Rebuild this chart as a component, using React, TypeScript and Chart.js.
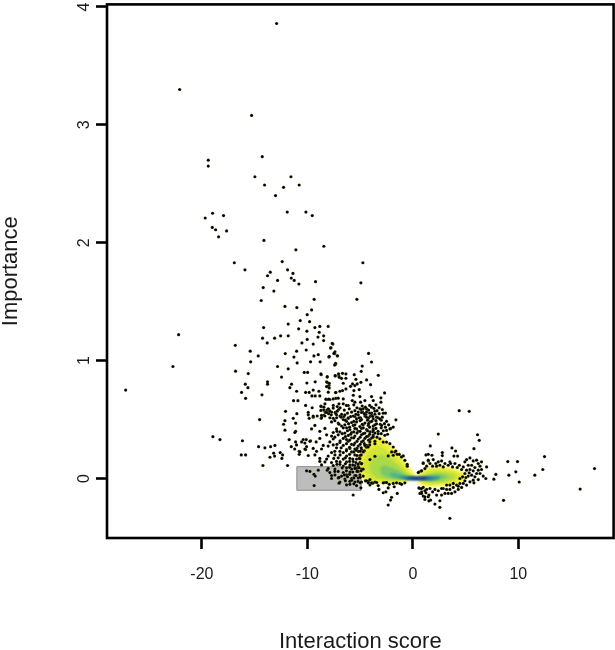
import React, { useEffect, useRef } from "react";
import { Chart, registerables } from "chart.js";

Chart.register(...registerables);

type P = [number, number];

const xTickValues = [-20, -10, 0, 10];
const yTickValues = [0, 1, 2, 3, 4];

const selectionBox: P[] = [[-11, -0.1], [-11, 0.1], [-4.93, 0.1], [-4.93, -0.1], [-11, -0.1]];

const leftLobe: P[][] = [
  [[0.6,0.005],[-0.2,0.09],[-1.2,0.21],[-2.2,0.3],[-3.2,0.37],[-4.2,0.33],[-5.1,0.2],[-5.2,0.08],[-4.6,-0.03],[-3.4,-0.05],[-1.9,-0.05],[-0.6,-0.03]],
  [[0.35,0.01],[-0.3,0.075],[-1.2,0.19],[-2.2,0.28],[-3.2,0.35],[-4.2,0.31],[-5,0.19],[-5.1,0.08],[-4.5,-0.015],[-3.4,-0.035],[-1.9,-0.038],[-0.6,-0.02]],
  [[0.2,0.008],[-0.4,0.05],[-1.2,0.14],[-2.2,0.22],[-3.1,0.28],[-4,0.25],[-4.7,0.15],[-4.7,0.07],[-4.1,0],[-3.2,-0.018],[-1.9,-0.025],[-0.6,-0.012]],
  [[0.1,0.006],[-0.5,0.035],[-1.2,0.095],[-2.1,0.16],[-2.9,0.2],[-3.6,0.18],[-4.1,0.11],[-3.9,0.04],[-3.2,0],[-1.9,-0.012],[-0.6,-0.008]],
  [[0,0.005],[-0.6,0.025],[-1.2,0.06],[-2,0.09],[-2.7,0.11],[-3.1,0.09],[-3,0.04],[-2.6,0.012],[-1.8,-0.002],[-0.6,-0.005]],
  [[-0.1,0.004],[-0.7,0.015],[-1.3,0.035],[-1.9,0.045],[-2.2,0.035],[-1.9,0.012],[-1.2,0],[-0.6,-0.004]],
];
const rightLobe: P[][] = [
  [[0.2,0.005],[0.7,0.06],[1.6,0.105],[2.9,0.11],[4.2,0.085],[5.1,0.045],[5.2,0.005],[4.3,-0.05],[2.9,-0.07],[1.6,-0.08],[0.7,-0.06]],
  [[0.4,0.004],[0.8,0.05],[1.6,0.09],[2.9,0.095],[4.1,0.072],[4.9,0.035],[5,0.005],[4.2,-0.04],[2.9,-0.058],[1.6,-0.066],[0.8,-0.05]],
  [[0.5,0.004],[1,0.04],[1.8,0.07],[2.9,0.072],[3.9,0.055],[4.5,0.025],[4.5,0.005],[3.8,-0.028],[2.8,-0.04],[1.7,-0.048],[1,-0.036]],
  [[0.6,0.004],[1.2,0.03],[2,0.05],[2.9,0.052],[3.6,0.035],[4,0.015],[3.5,-0.016],[2.6,-0.028],[1.7,-0.032],[1.1,-0.022]],
  [[0.7,0.004],[1.4,0.022],[2.2,0.035],[2.9,0.032],[3.3,0.018],[3,-0.006],[2.3,-0.018],[1.5,-0.02]],
  [[0.9,0.004],[1.6,0.016],[2.3,0.02],[2.7,0.012],[2.3,-0.008],[1.5,-0.012]],
];
const coreStreak: P[][] = [
  [[-1.4,0.012],[-0.5,0.018],[0.5,0.016],[1.8,0.016],[2.6,0.008],[1.8,-0.012],[0.5,-0.016],[-0.6,-0.012]],
  [[-0.9,0.006],[0,0.012],[1,0.012],[1.9,0.006],[1,-0.01],[0,-0.01]],
  [[-0.6,0.002],[0.1,0.008],[1,0.008],[1.5,0.002],[1,-0.007],[0.1,-0.006]],
];

const upperPoints: P[] = [
  [-12.92,3.86],[-22.11,3.3],[-15.29,3.08],[-14.28,2.73],[-19.4,2.7],[-19.4,2.65],[-14.98,2.56],[-11.56,2.56],[-14.06,2.49],[-10.78,2.49],[-12.26,2.47],[-13.02,2.4],[-11.91,2.26],[-18.99,2.25],[-17.95,2.23],[-19.69,2.21],[-19.02,2.13],[-18.7,2.11],[-17.66,2.1],[-18.42,2.05],[-14.12,2.02],[-11.09,1.94],
  [-8.44,1.97],[-4.74,1.83],[-10.14,2.26],[-9.54,2.23],[-16.93,1.83],[-15.92,1.77],[-12.39,1.84],[-11.88,1.77],[-11.37,1.74],[-13.52,1.75],[-13.78,1.72],[-12.83,1.68],[-11.53,1.7],[-11.25,1.68],[-10.81,1.65],[-9.23,1.67],[-4.93,1.66],[-14.19,1.62],[-13.18,1.59],[-14.38,1.51],[-9.36,1.52],[-5.31,1.52],[-12.13,1.46],[-11,1.45],[-9.6,1.43],
];

const midPoints: P[] = [
  [-10.02,1.39],[-10.68,1.34],[-9.79,1.33],[-11.82,1.31],[-9.29,1.28],[-8.82,1.29],[-8.03,1.29],[-14.15,1.28],[-10.83,1.27],[-10.05,1.25],[-8.88,1.24],[-8.46,1.21],[-9,1.2],[-14.25,1.19],[-13.11,1.19],[-12.54,1.21],[-11.82,1.21],[-13.81,1.15],[-10.02,1.18],[-10.52,1.15],[-9.45,1.14],[-8.46,1.17],[-7.58,1.14],[-16.84,1.13],[-22.21,1.22],[-22.75,0.95],[-27.23,0.75],
  [-15.42,1.08],[-14.66,1.04],[-15.38,0.99],[-12.1,1.06],[-11.02,1.08],[-10.11,1.09],[-7.77,1.11],[-9.38,1.04],[-8.97,1.05],[-11.28,1.03],[-10.97,0.98],[-9.7,0.99],[-8.79,0.99],[-7.96,1.03],[-7.42,1.06],[-7.14,1.04],[-7.33,0.97],[-12.83,0.95],[-11.82,0.93],[-16.81,0.91],[-15.61,0.89],[-10.3,0.9],[-9.98,0.9],[-8.69,0.88],[-8.12,0.86],[-7.37,0.87],[-7.01,0.87],[-12.45,0.86],[-13.78,0.82],[-13.78,0.8],[-11.5,0.8],[-11.66,0.77],[-15.89,0.8],[-15.64,0.77],[-16.24,0.73],[-15.86,0.68],[-14.31,0.71],[-10.05,0.81],[-9.26,0.82],[-8.18,0.82],[-7.96,0.79],[-8.09,0.78],[-11.02,0.74],[-9.45,0.75],[-10.17,0.73],[-9.83,0.73],[-8.91,0.74],[-7.3,0.73],[-9.57,0.7],[-9.26,0.7],[-8.82,0.7],[-8.18,0.67],[-7.87,0.67],[-7.3,0.68],[-11.31,0.66],[-10.9,0.66],[-10.17,0.62],[-9.55,0.6],[-8.69,0.61],[-8.46,0.58],[-8.16,0.58],[-7.96,0.585],[-7.55,0.62],[-7.17,0.61],[-7.04,0.585],[-8.31,0.56],[-7.99,0.55],[-7.74,0.54],[-7.37,0.56],[-12.07,0.57],[-9.92,0.56],[-9.07,0.53],[-9.45,0.52],[-9.83,0.51],[-11,0.55],[-8.69,0.51],[-14.53,0.5],[-11.34,0.51],[-12.13,0.49],[-12.26,0.46],[-11.12,0.47],[-12.13,0.41],[-11.12,0.4],
  [-18.96,0.355],[-18.29,0.33],[-16.16,0.32],[-11.73,0.33],[-10.4,0.33],[-10.11,0.33],[-9.7,0.32],[-11.12,0.31],[-9.17,0.31],[-14.63,0.27],[-14.03,0.26],[-13.49,0.27],[-13.08,0.28],[-11.53,0.27],[-11.21,0.25],[-10.78,0.23],[-10.78,0.205],[-10.08,0.27],[-10.17,0.245],[-16.27,0.2],[-15.86,0.2],[-12.58,0.22],[-12.35,0.2],[-12.42,0.17],[-13.2,0.215],[-13.55,0.18],[-13.11,0.19],[-14.22,0.11],[-11.88,0.11],
  [-10.08,0.065],[-9.76,0.06],[-9.38,0.035],[-9.26,0.02],[-9.36,-0.06],[-8.97,0.07],[-8.12,0.07],[-5.66,-0.14],
];

const upperCloud: P[] = [
  [-7.65,1.146],[-7.8,1.106],[-7.39,1.075],[-7.49,1.061],[-7.93,1.036],[-7.17,1.041],[-7.33,0.977],[-7.42,0.962],[-4.2,1.061],[-3.92,0.988],[-4.8,0.954],[-4.9,0.909],[-3.28,0.875],
  [-8.72,0.887],[-8.12,0.864],[-7.36,0.872],[-7.05,0.887],[-6.67,0.892],[-6.35,0.887],[-5.56,0.881],[-6.98,0.858],[-6.76,0.85],[-6.35,0.85],[-5.4,0.841],[-8.12,0.816],[-7.93,0.808],[-6.6,0.808],[-5.28,0.802],[-4.93,0.816],[-4.39,0.836],[-4.01,0.796],[-5.72,0.802],[-5.91,0.782],[-5.5,0.788],
  [-8.18,0.78],[-7.93,0.768],[-6.35,0.76],[-6.67,0.746],[-6.92,0.74],[-7.33,0.729],[-8.02,0.732],[-5.59,0.746],[-5.09,0.754],[-5.65,0.706],[-2.68,0.726],[-3.92,0.695],[-3.03,0.684],[-3.76,0.661],[-3.03,0.647],[-5.02,0.695],[-4.55,0.661],[-4.96,0.647],
  [-8.25,0.673],[-7.99,0.673],[-7.55,0.675],[-7.08,0.681],[-6.6,0.675],[-5.75,0.661],[-5.5,0.647],[-8.34,0.633],[-7.01,0.633],[-6.6,0.633],[-6.13,0.619],[-8.72,0.613],[-8.44,0.605],[-8.02,0.591],[-7.55,0.597],[-8.25,0.563],[-8.72,0.577],[-7.71,0.563],[-7.17,0.571],[-6.76,0.543],[-6.54,0.526],[-6.03,0.591],[-5.81,0.563],[-5.02,0.591],[-4.71,0.591],[-4.39,0.591],[-5.18,0.563],[-4.77,0.563],[-4.45,0.543],[-3.92,0.605],[-3.6,0.571],[-2.81,0.554],[-4.07,0.526],[-3.44,0.52],[-1.61,0.498],[-5.5,0.526],[-4.96,0.515],[-6.13,0.515],[-7.23,0.515],[-7.87,0.515],[-8.44,0.535],[-8.66,0.515],
];

const denseCloud: P[] = [
  [-8.18,0.56],[-7.87,0.57],[-4.87,0.56],[-4.39,0.565],[-3.92,0.555],
  [-9.92,0.54],[-9.45,0.53],[-8.66,0.535],[-8.34,0.53],[-7.24,0.54],[-6.92,0.53],[-6.45,0.54],[-5.66,0.53],[-5.18,0.54],[-4.55,0.53],[-3.92,0.535],
  [-7.55,0.51],[-6.6,0.5],[-6.13,0.51],[-5.34,0.505],[-4.87,0.5],[-4.23,0.51],[-3.76,0.505],
  [-7.71,0.48],[-7.08,0.47],[-6.29,0.485],[-5.81,0.475],[-5.34,0.48],[-4.55,0.47],[-4.07,0.48],
  [-9.29,0.45],[-6.76,0.445],[-6.45,0.455],[-5.66,0.45],[-5.02,0.44],[-4.71,0.455],[-4.23,0.45],[-3.76,0.445],
  [-9.61,0.42],[-8.34,0.425],[-7.24,0.42],[-6.29,0.43],[-5.97,0.415],[-5.34,0.42],[-4.87,0.425],[-4.39,0.415],[-3.76,0.42],
  [-11.19,0.39],[-8.82,0.4],[-7.55,0.39],[-6.92,0.395],[-6.45,0.385],[-5.81,0.39],[-5.18,0.4],[-4.55,0.385],[-4.07,0.395],
  [-8.18,0.37],[-7.71,0.36],[-7.08,0.37],[-6.13,0.365],[-5.5,0.36],[-4.87,0.37],[-4.23,0.36],[-3.76,0.365],
  [-8.82,0.34],[-7.55,0.335],[-6.6,0.34],[-6.29,0.33],[-5.81,0.345],[-5.18,0.335],[-4.55,0.34],[-4.07,0.33],
  [-10.55,0.31],[-10.24,0.3],[-9.76,0.315],[-7.87,0.31],[-6.92,0.305],[-6.13,0.315],[-5.5,0.3],[-4.87,0.31],
  [-11.03,0.285],[-8.5,0.28],[-8.03,0.275],[-7.55,0.285],[-6.6,0.28],[-5.81,0.29],[-5.18,0.275],[-4.39,0.28],
  [-10.24,0.25],[-9.45,0.255],[-8.66,0.25],[-7.24,0.26],[-6.29,0.245],[-5.97,0.255],[-5.5,0.25],[-4.87,0.245],
  [-10.71,0.225],[-9.13,0.23],[-7.71,0.22],[-6.92,0.23],[-6.6,0.22],[-5.81,0.225],[-5.18,0.23],
  [-9.92,0.195],[-9.29,0.2],[-8.03,0.19],[-7.39,0.2],[-6.29,0.19],[-5.5,0.2],[-5.02,0.195],
  [-8.82,0.17],[-8.18,0.165],[-7.08,0.175],[-6.6,0.165],[-5.97,0.17],[-5.34,0.165],
  [-8.82,0.145],[-8.34,0.14],[-7.71,0.135],[-7.24,0.145],[-6.29,0.14],[-5.66,0.145],[-5.02,0.135],
  [-8.66,0.115],[-7.55,0.11],[-6.92,0.12],[-6.6,0.105],[-5.97,0.115],[-5.5,0.11],[-5.18,0.1],
  [-8.03,0.085],[-7.39,0.08],[-6.29,0.09],[-5.81,0.08],[-5.34,0.085],[-4.87,0.08],
  [-7.87,0.05],[-7.08,0.06],[-6.6,0.05],[-5.97,0.055],[-5.18,0.06],
  [-7.71,0.025],[-7.39,0.03],[-6.76,0.02],[-6.29,0.03],[-5.5,0.025],[-5.02,0.03],[-4.71,0.02],
  [-7.71,0],[-7.08,0.005],[-6.45,-0.005],[-5.81,0],[-5.18,0.005],
  [-6.92,-0.03],[-5.97,-0.025],[-5.5,-0.03],[-4.87,-0.03],[-4.23,-0.025],[-3.6,-0.03],
  [-6.29,-0.055],[-5.97,-0.05],[-5.34,-0.06],[-4.07,-0.055],[-3.29,-0.06],
];

const denseCore: P[] = [
  [-6.3,0.62],[-5.6,0.625],[-4.8,0.615],[-4.1,0.62],[-3.5,0.625],[-6.9,0.6],[-5.3,0.6],[-4.5,0.605],[-3.7,0.595],[-3.2,0.6],
  [-6.5,0.58],[-5.5,0.575],[-4.9,0.585],[-4.2,0.58],[-3.4,0.575],[-2.9,0.585],[-7.3,0.55],[-6.2,0.555],[-5.4,0.545],[-4.6,0.55],[-4.1,0.555],[-3.6,0.545],[-3.2,0.55],[-2.6,0.555],
  [-6.8,0.52],[-5.9,0.525],[-5.1,0.515],[-4.4,0.52],[-3.8,0.525],[-3.3,0.515],[-2.9,0.52],[-7.4,0.49],[-6.4,0.495],[-5.6,0.485],[-5,0.49],[-4.3,0.495],[-3.9,0.485],[-3.5,0.49],[-3,0.495],[-2.5,0.485],
  [-7,0.46],[-6.1,0.465],[-5.5,0.455],[-4.8,0.46],[-4.2,0.465],[-3.6,0.455],[-3.1,0.46],[-2.7,0.465],[-2.3,0.455],[-6.6,0.43],[-6,0.435],[-5.5,0.425],[-4.7,0.43],[-4.1,0.435],[-3.5,0.425],[-3,0.43],[-2.6,0.435],[-2.1,0.425],
  [-7.2,0.4],[-6.2,0.405],[-5.6,0.395],[-5,0.4],[-4.3,0.405],[-3.8,0.395],[-3.3,0.4],[-2.8,0.405],[-6.7,0.38],[-5.9,0.375],[-5.3,0.385],[-4.7,0.38],[-4.1,0.375],[-3.6,0.385],[-3,0.38],[-2.4,0.375],
  [-7.4,0.35],[-6.4,0.355],[-5.6,0.345],[-5,0.35],[-4.4,0.355],[-3.9,0.345],[-3.4,0.35],[-6.9,0.32],[-6,0.325],[-5.3,0.315],[-4.7,0.32],[-4.2,0.325],[-3.6,0.315],
  [-7.2,0.29],[-6.3,0.295],[-5.6,0.285],[-5,0.29],[-4.6,0.295],[-4.1,0.285],[-6.8,0.26],[-6,0.265],[-5.3,0.255],[-4.9,0.26],[-4.4,0.265],
  [-7.4,0.23],[-6.3,0.235],[-5.6,0.225],[-5,0.23],[-4.6,0.235],[-6.9,0.2],[-6,0.205],[-5.3,0.195],[-4.9,0.2],[-7.5,0.17],[-6.4,0.175],[-5.7,0.165],[-5.1,0.17],
  [-6.9,0.14],[-6,0.145],[-5.4,0.135],[-7.2,0.12],[-6.4,0.125],[-5.7,0.115],[-5.2,0.12],[-4.9,0.125],[-6.7,0.09],[-6,0.095],[-5.5,0.085],[-5.1,0.09],
  [-7.4,0.06],[-6.3,0.065],[-5.7,0.055],[-5.3,0.06],[-4.9,0.065],[-6.5,0.03],[-6,0.035],[-5.4,0.025],[-7,0.01],[-6.2,0.015],[-5.6,0.005],[-5,0.01],
  [-6.4,-0.02],[-5.8,-0.015],[-5.2,-0.025],[-4.5,-0.02],[-7,-0.04],[-5.6,-0.045],[-5,-0.035],[-3.8,-0.04],
];

const lobeEdgeLeft: P[] = [
  [-1.86,0.436],[-2.18,0.42],[-2.5,0.408],[-3.13,0.506],[-3.45,0.464],[-2.97,0.45],[-3.76,0.408],[-3.29,0.38],[-2.66,0.366],[-3.13,0.337],[-2.81,0.309],[-2.5,0.309],[-2.18,0.295],[-1.86,0.267],[-1.71,0.225],[-1.49,0.205],[-1.08,0.183],[-0.76,0.154],[-0.54,0.12],
  [-3.76,0.351],[-4.08,0.309],[-3.6,0.295],[-4.24,0.267],[-4.71,0.225],[-5.02,0.168],[-4.87,0.126],
  [-4.93,-0.079],[-4.39,-0.02],[-4.07,-0.009],[-4.23,-0.037],[-3.92,-0.037],[-3.44,-0.034],[-2.65,-0.034],[-2.49,-0.034],[-2.81,-0.037],[-2.24,-0.05],[-2.34,-0.08],[-1.86,-0.042],[-1.55,-0.037],[-1.77,-0.07],[-1.23,-0.042],[-1.07,-0.05],[-0.76,-0.037],[-3.22,-0.093],[-2.81,-0.121],[-2.56,-0.113],[-2.02,-0.16],[-2.12,-0.183],[-2.34,-0.225],[-1.48,-0.127],
  [-0.53,0.104],[-0.91,0.191],[-1.29,0.205],[-1.86,0.197],[-2.34,0.191],[-2.02,0.225],[-1.61,0.233],[-4.07,0.16],[-4.71,0.08],[-4.86,0.126],[-4.55,0.28],[-3.6,0.188],[-5.4,0.24],
];

const rightLobePoints: P[] = [
  [2.41,0.377],[6.13,0.371],[6.29,0.324],[5.79,0.253],[1.65,0.276],[3.7,0.259],[4.05,0.233],[2.79,0.22],[2.79,0.194],[1.24,0.2],[1.81,0.197],[3.89,0.19],[4.24,0.19],[5.41,0.174],[4.39,0.575],[5.34,0.57],
  [1.46,0.149],[1.93,0.16],[2.41,0.141],[2.72,0.149],[2.18,0.127],[1.62,0.127],[1.87,0.104],[1.3,0.104],[0.98,0.127],[1.14,0.084],[0.83,0.065],[0.6,0.056],[3.04,0.127],[3.51,0.141],[3.99,0.127],[4.4,0.112],[4.93,0.141],[5.09,0.16],[5.72,0.149],[6.04,0.155],[6.51,0.141],[6.99,0.098],[6.2,0.127],[5.25,0.112],[6.36,0.104],[5.88,0.093],[5.57,0.112],[4.78,0.098],[4.62,0.076],[5.09,0.07],[5.41,0.076],[5.72,0.065],[6.2,0.07],[6.51,0.076],[6.04,0.042],[5.34,0.048],[4.93,0.042],[5.57,0.028],[6.36,0.042],[6.67,0.02],[5.88,0.014],[5.25,0.02],[4.71,0.014],[6.92,0],[6.2,-0.009],
  [5.72,-0.014],[4.93,-0.02],[5.41,-0.028],[5.09,-0.056],[5.79,-0.037],[4.78,-0.042],[4.46,-0.042],[4.14,-0.056],[4.62,-0.076],[3.83,-0.076],[4.3,-0.093],[3.51,-0.093],[3.99,-0.113],[3.67,-0.127],[3.2,-0.056],[2.88,-0.085],[3.35,-0.127],[3.04,-0.127],[2.72,-0.085],[2.41,-0.104],[2.09,-0.093],[1.87,-0.113],[2.72,-0.141],[2.25,-0.141],[1.62,-0.085],[1.3,-0.093],[0.98,-0.076],[0.67,-0.085],[0.83,-0.113],[1.24,-0.121],[0.67,-0.127],[0.98,-0.149],[1.46,-0.155],[1.14,-0.178],[1.68,-0.183],[2.09,-0.217],[2.56,-0.189],[2.56,-0.245],[3.51,-0.338],
  [2.25,0.104],[3.35,0.112],[3.76,0.098],[2.88,0.098],[2.56,0.112],[4.21,0.093],[3.58,0.127],[3.51,-0.056],[3.83,-0.042],[3.2,-0.093],[4.46,0],[4.3,-0.065],[5.03,0.008],
  [0.51,0.05],[0.82,0.065],[0.98,0.132],[1.46,0.205],[1.46,0.155],[0.57,-0.08],[0.82,-0.085],[1.14,-0.104],[1.14,-0.155],[1.52,-0.14],[1.52,-0.19],[0.82,-0.127],
];

const farRightPoints: P[] = [
  [9,0.143],[9.92,0.143],[12.48,0.186],[12.32,0.076],[11.56,0.028],[9.76,0.056],[9.1,0.028],[7.87,0.034],[7.68,-0.006],[10.08,-0.03],[8.6,-0.185],[17.22,0.084],[15.86,-0.09],
];

const lobeColors = ["#fafa9c", "#eef03c", "#d2e436", "#aada48", "#7cc868", "#4cb088"];
const coreColors = ["#2f8aa2", "#2b5f9c", "#232876"];

const shape = (data: P[], color: string, order: number, tension = 0.25) => ({
  type: "scatter" as const,
  showLine: true,
  data: [...data, data[0]].map(([x, y]) => ({ x, y })),
  borderColor: color,
  borderWidth: 0,
  backgroundColor: color,
  fill: "shape",
  tension,
  pointRadius: 0,
  order,
});

const BOX_ID = "selection";
const LAST_DENSITY_ID = "core-2";

const frame = {
  id: "frame",
  afterDatasetDraw(chart: any, args: any) {
    const id = chart.data.datasets[args.index].id;
    if (id === BOX_ID) chart.ctx.filter = "blur(1.1px)";
    if (id === LAST_DENSITY_ID) chart.ctx.filter = "none";
  },
  afterDatasetsDraw(chart: any) {
    const { left, right, top, bottom } = chart.chartArea;
    const c = chart.ctx;
    c.save();
    c.strokeStyle = "#000";
    c.lineWidth = 2.6;
    c.strokeRect(left, top, right - left, bottom - top);
    c.restore();
  },
};

const clearPadding = (s: any) => {
  s.paddingTop = 0; s.paddingBottom = 0; s.paddingLeft = 0; s.paddingRight = 0;
};

export default function App() {
  const ref = useRef<HTMLCanvasElement>(null);
  useEffect(() => {
    const allPoints = [
      ...upperPoints, ...midPoints, ...upperCloud, ...denseCloud, ...denseCore, ...lobeEdgeLeft, ...rightLobePoints, ...farRightPoints,
    ];
    const datasets: any[] = [];
    datasets.push({
      type: "scatter",
      data: allPoints.map(([x, y]) => ({ x, y })),
      backgroundColor: "#000",
      borderColor: "rgba(250,250,120,0.35)",
      borderWidth: 0.4,
      pointRadius: 1.6,
      order: 1,
    });
    coreStreak.forEach((p, i) => datasets.push({ ...shape(p, coreColors[i], 12 - i), id: `core-${i}` }));
    leftLobe.forEach((p, i) => datasets.push(shape(p, lobeColors[i], 30 - i)));
    rightLobe.forEach((p, i) => datasets.push(shape(p, lobeColors[i], 30 - i)));
    datasets.push({
      id: BOX_ID,
      type: "scatter",
      showLine: true,
      data: selectionBox.map(([x, y]) => ({ x, y })),
      borderColor: "#8c8c8c",
      borderWidth: 1,
      backgroundColor: "#bdbdbd",
      fill: "shape",
      pointRadius: 0,
      order: 50,
    });

    const family = "'Liberation Sans', Arial, sans-serif";
    const tickStyle = { color: "#1a1a1a", font: { family, size: 16 } };

    const chart = new Chart(ref.current!, {
      type: "scatter",
      data: { datasets },
      plugins: [frame],
      options: {
        animation: false,
        responsive: false,
        layout: { padding: { top: 1.5, right: 0, left: 0, bottom: 0 } },
        plugins: { legend: { display: false }, tooltip: { enabled: false } },
        scales: {
          x: {
            type: "linear",
            min: -29,
            max: 19.03,
            afterBuildTicks: (s: any) => { s.ticks = xTickValues.map((value) => ({ value })); },
            afterFit: (s: any) => { s.height = 112; clearPadding(s); },
            grid: { drawOnChartArea: false, drawTicks: true, tickLength: 11, tickColor: "#000", tickWidth: 2.6 },
            border: { display: false },
            ticks: { ...tickStyle, padding: 16, maxRotation: 0, autoSkip: false },
            title: { display: true, text: "Interaction score", color: "#1a1a1a", font: { family, size: 22, lineHeight: 0.7 }, padding: 0 },
          },
          y: {
            type: "linear",
            min: -0.505,
            max: 4.022,
            afterBuildTicks: (s: any) => { s.ticks = yTickValues.map((value) => ({ value })); },
            afterFit: (s: any) => { s.width = 107; clearPadding(s); },
            grid: { drawOnChartArea: false, drawTicks: true, tickLength: 11, tickColor: "#000", tickWidth: 2.6 },
            border: { display: false },
            ticks: { ...tickStyle, padding: 7, minRotation: 90, maxRotation: 90, autoSkip: false, align: "center", crossAlign: "center" },
            title: { display: true, text: "Importance", color: "#1a1a1a", font: { family, size: 22, lineHeight: 1 }, padding: 0 },
          },
        },
      },
    } as any);
    return () => chart.destroy();
  }, []);
  return (
    <div style={{ position: "absolute", left: 0, top: 0, width: 615, height: 650, background: "#fff", overflow: "hidden" }}>
      <canvas ref={ref} width={618} height={650} style={{ display: "block" }} />
    </div>
  );
}
